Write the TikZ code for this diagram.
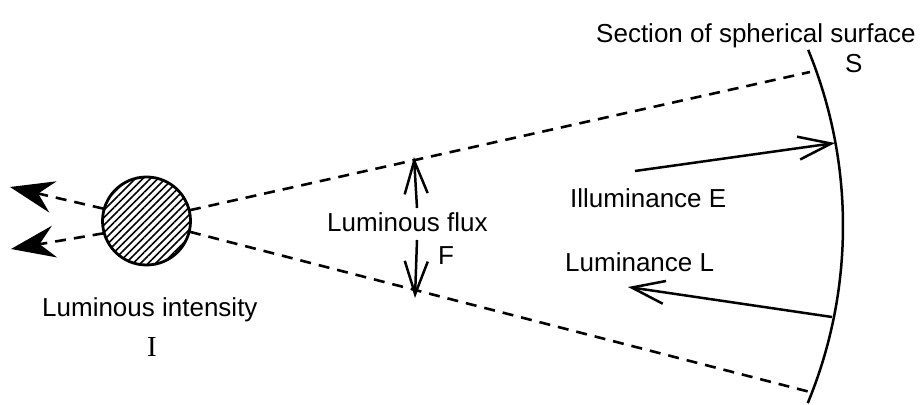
\documentclass[tikz,border=0pt]{standalone}
\usepackage{fontspec}
\setmainfont{Liberation Sans}
\newfontfamily\serifI{Liberation Serif}
\usetikzlibrary{arrows.meta,patterns.meta}
\begin{document}
\begin{tikzpicture}[x=1pt,y=1pt,
  ray/.style={line width=2.6pt,dash pattern=on 11pt off 8pt},
  solidarrow/.style={line width=2.5pt,-{Straight Barb[length=33pt,width=23pt,line width=2.5pt]}},
  bigtip/.style={line width=2.6pt,dash pattern=on 11pt off 8pt,-{Stealth[length=44pt,width=32pt,inset=15pt]}},
  lbl/.style={anchor=base west,inner sep=0pt,font=\fontsize{26}{30}\selectfont}]
\useasboundingbox (0,0) rectangle (923,404);
% light source
\node[circle,draw,line width=2.8pt,minimum size=88pt,inner sep=0pt,
  pattern={Lines[angle=45,distance=5.3pt,line width=1.5pt]}] (src) at (146.5,183) {};
% ray end points
\coordinate (sU) at (810,332);
\coordinate (sL) at (810,12);
\coordinate (tU) at (10,217);
\coordinate (tL) at (11,155);
% rays
\draw[ray] (src.14) -- (sU);
\draw[ray] (src.-14) -- (sL);
\draw[bigtip] (src.164) -- (tU);
\draw[bigtip] (src.196) -- (tL);
% spherical surface section
\draw[line width=2.5pt] (808.2,354.1) arc[start angle=22.35,end angle=-22.5,radius=463];
% flux arrows
\coordinate (fU0) at (417,196);
\coordinate (fU1) at (414,247);
\coordinate (fD0) at (417,164);
\coordinate (fD1) at (415,106);
\draw[solidarrow] (fU0) -- (fU1);
\draw[solidarrow] (fD0) -- (fD1);
% illuminance / luminance
\coordinate (e0) at (635,233);
\coordinate (e1) at (835,261);
\coordinate (l0) at (832,87);
\coordinate (l1) at (628,117);
\draw[solidarrow] (e0) -- (e1);
\draw[solidarrow] (l0) -- (l1);
% labels
\node[lbl] (secl) at (596,361) {Section of spherical surface};
\node[lbl] (sl) at (845,331) {S};
\node[lbl] (el) at (570,196) {Illuminance E};
\node[lbl] (ll) at (565,132) {Luminance L};
\node[lbl] (fl) at (327,172) {Luminous flux};
\node[lbl] (ff) at (438,139) {F};
\node[lbl] (il) at (42,87) {Luminous intensity};
\node[anchor=base west,inner sep=0pt,font=\serifI\fontsize{29}{32}\selectfont] (ii) at (147,47) {I};
\end{tikzpicture}
\end{document}
